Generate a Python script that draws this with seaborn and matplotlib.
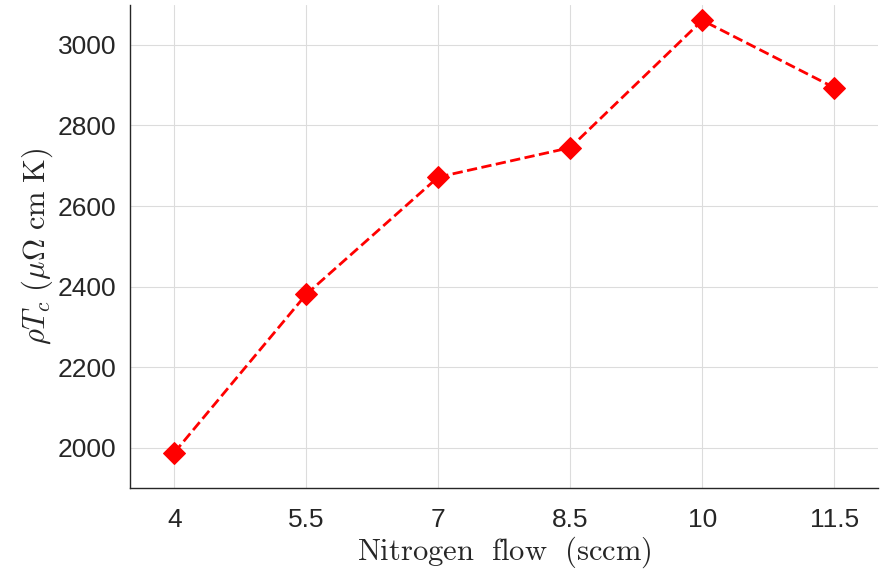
import numpy as np
import pandas as pd
import seaborn as sns
import matplotlib.pyplot as plt

sns.set_style('white')
plt.rcParams['font.family'] = ['Liberation Sans', 'DejaVu Sans']
plt.rcParams['mathtext.fontset'] = 'cm'

# data
flow = [4, 5.5, 7, 8.5, 10, 11.5]
rho_tc = [1988, 2381, 2672, 2745, 3061, 2894]
df = pd.DataFrame({'flow': flow, 'rhoTc': rho_tc})

fig = plt.figure(figsize=(8.8, 5.77), dpi=100)
ax = fig.add_axes([0.148, 0.154, 0.85, 0.838])

sns.lineplot(data=df, x='flow', y='rhoTc', ax=ax, color='red',
             linestyle='--', linewidth=2, marker='D', markersize=11,
             markeredgecolor='red')

ax.set_xlim(3.5, 12)
ax.set_ylim(1900, 3100)
ax.set_xticks(flow)
ax.set_xticklabels(['4', '5.5', '7', '8.5', '10', '11.5'])
ax.set_yticks([2000, 2200, 2400, 2600, 2800, 3000])
ax.grid(True, color='#dcdcdc', linewidth=0.8)
ax.tick_params(axis='both', direction='in', length=5, width=0.8,
               labelsize=19, colors='#262626')
ax.tick_params(axis='x', pad=14)
ax.tick_params(axis='y', pad=10)
for s in ['top', 'right']:
    ax.spines[s].set_visible(False)
for s in ['left', 'bottom']:
    ax.spines[s].set_color('#262626')
    ax.spines[s].set_linewidth(1)

ax.set_xlabel(r'$\mathrm{Nitrogen\ \ flow\ \ (sccm)}$', fontsize=22, color='#262626', labelpad=2)
ax.set_ylabel(r'$\rho T_c\ (\mu\Omega\ \mathrm{cm\ K})$', fontsize=22, color='#262626', labelpad=2)

fig.savefig('out.png', dpi=100)
